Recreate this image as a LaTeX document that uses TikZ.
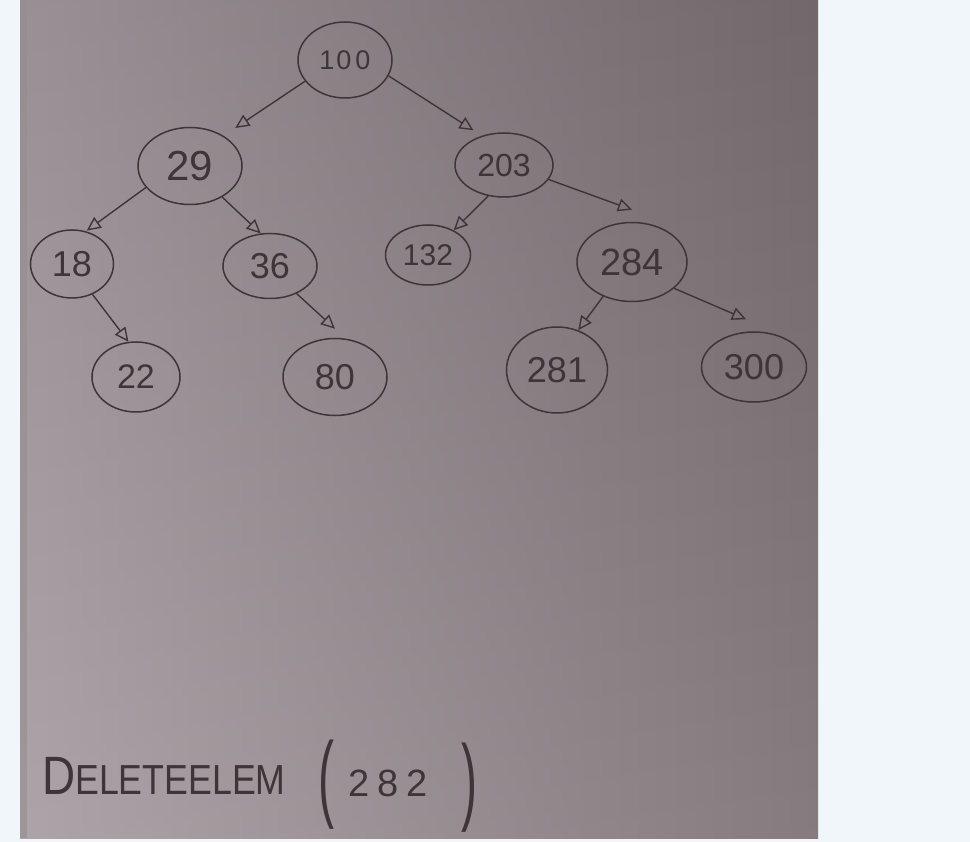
\documentclass[tikz,border=0pt]{standalone}
\usepackage{fontspec}
\setmainfont{Liberation Sans}
\usetikzlibrary{shapes.geometric,arrows.meta,calc}
\definecolor{bgblue}{HTML}{F0F6FA}
\definecolor{paperA}{HTML}{A69DA2}
\definecolor{paperB}{HTML}{7C7074}
\definecolor{paperEdge}{HTML}{968B90}
\definecolor{pencil}{HTML}{3E3539}
\begin{document}
\begin{tikzpicture}[x=1pt,y=-1pt,
  tnode/.style={ellipse, draw=pencil, line width=1.5pt, inner sep=0pt, text=pencil},
  arr/.style={draw=pencil, line width=1.4pt, -{Triangle[open,length=14pt,width=13pt]}},
  hand/.style={text=pencil, inner sep=0pt}]
\useasboundingbox (0,0) rectangle (970,842);
\fill[bgblue] (0,0) rectangle (970,842);
\shade[left color=paperA, right color=paperB] (20,0) rectangle (818,838);
\shade[top color=black, bottom color=white, opacity=0.08] (20,0) rectangle (818,838);
\fill[paperEdge, opacity=0.6] (20,0) rectangle (27,838);

% nodes
\node[tnode, minimum width=94pt, minimum height=76pt, font=\fontsize{27}{32}\selectfont] (n100) at (345,60) {1\hspace{2pt}0\hspace{4pt}0};
\node[tnode, minimum width=104pt, minimum height=77pt, font=\fontsize{42}{48}\selectfont] (n29) at (190,166) {29};
\node[tnode, minimum width=98pt, minimum height=64pt, font=\fontsize{32}{38}\selectfont] (n203) at (504,165) {203};
\node[tnode, minimum width=83pt, minimum height=68pt, font=\fontsize{36}{42}\selectfont] (n18) at (72,264) {18};
\node[tnode, minimum width=94pt, minimum height=65pt, font=\fontsize{36}{42}\selectfont] (n36) at (270,266) {36};
\node[tnode, minimum width=85pt, minimum height=60pt, font=\fontsize{30}{36}\selectfont] (n132) at (428,255) {132};
\node[tnode, minimum width=110pt, minimum height=79pt, font=\fontsize{38}{44}\selectfont] (n284) at (632,262) {284};
\node[tnode, minimum width=88pt, minimum height=70pt, font=\fontsize{34}{40}\selectfont] (n22) at (136,377) {22};
\node[tnode, minimum width=104pt, minimum height=77pt, font=\fontsize{36}{42}\selectfont] (n80) at (335,377) {80};
\node[tnode, minimum width=101pt, minimum height=86pt, font=\fontsize{36}{42}\selectfont] (n281) at (557,370) {281};
\node[tnode, minimum width=105pt, minimum height=70pt, font=\fontsize{36}{42}\selectfont] (n300) at (754,367) {300};

% connectors
\draw[arr, shorten >=14pt] (n100.208) -- (n29.42);
\draw[arr, shorten >=10pt] (n100.-20) -- (n203.127);
\draw[arr, shorten >=1pt] (n29.206) -- (n18.67);
\draw[arr] (n29.-44) -- (n36.106);
\draw[arr] (n203.243) -- (n132.44);
\draw[arr] (n203.-18) -- ([yshift=12pt]n284.north);
\draw[arr] (n18.-56) -- (n22.102);
\draw[arr] (n36.-46) -- ([yshift=9pt]n80.north);
\draw[arr] (n284.230) -- (n281.62);
\draw[arr] (n284.-32) -- ([xshift=-8pt,yshift=12pt]n300.north);

% bottom text
\node[hand, anchor=base west, xscale=0.85, transform shape, font=\fontsize{42}{48}\selectfont] (del) at (42,794) {{\fontsize{54}{60}\selectfont D}ELETEELEM};
\node[hand, yscale=2, transform shape, font=\fontsize{48}{56}\selectfont] (lp) at (326,785) {(};
\node[hand, font=\fontsize{38}{44}\selectfont] (arg) at (388,783) {2\hspace{8pt}8\hspace{8pt}2};
\node[hand, yscale=2, transform shape, font=\fontsize{48}{56}\selectfont] (rp) at (469,788) {)};
\end{tikzpicture}
\end{document}
